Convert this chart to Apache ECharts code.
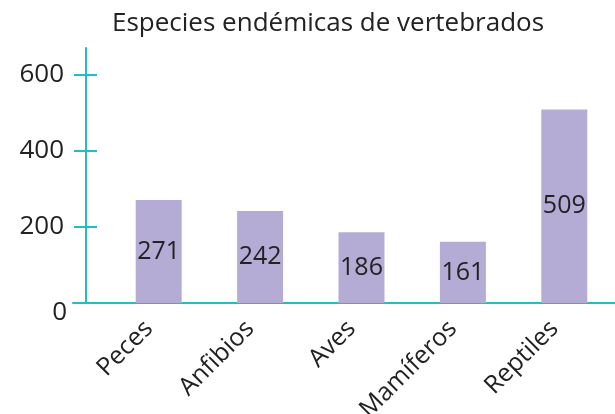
<!DOCTYPE html>
<html>
<head>
<meta charset="utf-8">
<script src="https://cdn.jsdelivr.net/npm/echarts@6/dist/echarts.min.js"></script>
<style>
  html, body { margin: 0; padding: 0; background: #fff; }
  #chart { width: 615px; height: 414px; }
</style>
</head>
<body>
<div id="chart"></div>
<script>
let categories = ['Peces', 'Anfibios', 'Aves', 'Mamíferos', 'Reptiles']
let especies = [271, 242, 186, 161, 509]

let teal = '#20bfc2'
let barColor = '#b5acd6'
let font = 'Open Sans'
let ink = '#222'

let chart = echarts.init(document.getElementById('chart'))
let option = {
  animation: false,
  title: {
    text: 'Especies endémicas de vertebrados',
    left: 107,
    top: 6,
    textStyle: { fontFamily: font, fontSize: 26, fontWeight: 'normal', color: ink }
  },
  grid: [
    // zona de las barras
    { left: 108, right: 0, top: 75, bottom: 111, outerBoundsMode: 'none' },
    // solo para alargar las líneas de los ejes
    { left: 73, right: 0, top: 48, bottom: 111, outerBoundsMode: 'none' }
  ],
  xAxis: [
    {
      type: 'category',
      data: categories,
      gridIndex: 0,
      axisLine: { lineStyle: { color: teal, width: 2 } },
      axisTick: { show: false },
      axisLabel: {
        rotate: 45, margin: 12, padding: [0, 14, 0, 0],
        fontFamily: font, fontSize: 25, color: ink
      }
    },
    {
      type: 'value',
      gridIndex: 1,
      axisLine: { show: true, onZero: false, lineStyle: { color: teal, width: 2 } },
      axisTick: { show: false },
      axisLabel: { show: false },
      splitLine: { show: false }
    }
  ],
  yAxis: [
    {
      type: 'value',
      gridIndex: 0,
      position: 'left',
      min: 0, max: 600, interval: 200,
      offset: 22,
      splitLine: { show: false },
      axisLine: { show: true, lineStyle: { color: teal, width: 2 } },
      axisTick: { show: true, length: 12, lineStyle: { color: teal, width: 2 } },
      axisLabel: {
        margin: 22,
        fontFamily: font, fontSize: 26, color: ink,
        formatter: v => v === 0 ? '' : String(v)
      }
    },
    {
      // marcas hacia dentro y la etiqueta del 0, algo más baja
      type: 'value',
      gridIndex: 0,
      position: 'left',
      min: 0, max: 600, interval: 200,
      offset: 22,
      splitLine: { show: false },
      axisLine: { show: false },
      axisTick: { show: true, inside: true, length: 11, lineStyle: { color: teal, width: 2 } },
      axisLabel: {
        margin: 19,
        verticalAlign: 'top',
        lineHeight: 20,
        fontFamily: font, fontSize: 26, color: ink,
        formatter: v => v === 0 ? '0' : ''
      }
    },
    {
      type: 'value',
      gridIndex: 1,
      offset: -13,
      splitLine: { show: false },
      axisLine: { show: true, lineStyle: { color: teal, width: 2 } },
      axisTick: { show: false },
      axisLabel: { show: false }
    }
  ],
  series: [
    {
      type: 'bar',
      data: especies,
      barWidth: 46,
      itemStyle: { color: barColor },
      label: { show: true, position: 'inside', fontFamily: font, fontSize: 25, color: ink }
    }
  ]
}
chart.setOption(option)
</script>
</body>
</html>
